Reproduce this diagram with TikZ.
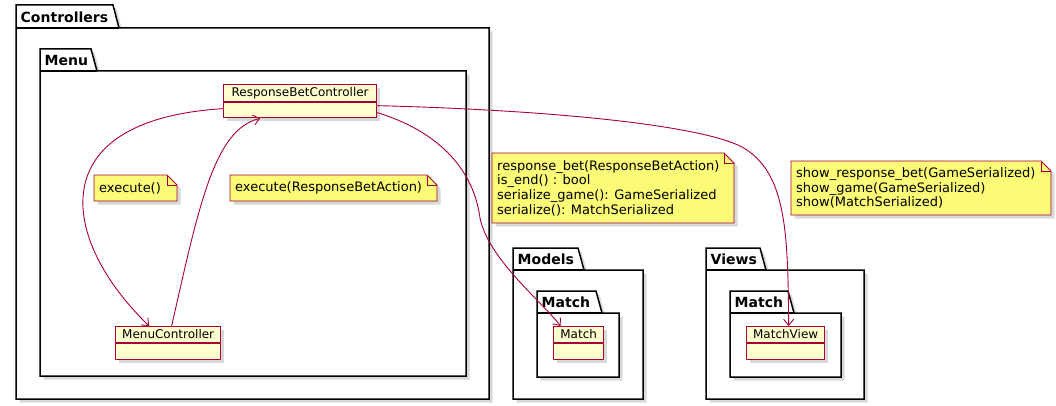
\documentclass[tikz,border=0pt]{standalone}
\usepackage{fontspec}
\setmainfont{DejaVu Sans}
\usetikzlibrary{arrows.meta,shadows,calc}
\definecolor{umlred}{HTML}{A80036}
\definecolor{classfill}{HTML}{FEFECE}
\definecolor{notefill}{HTML}{FBFB77}
\tikzset{
  pkgline/.style={draw=black,line width=1.5pt,fill=white,line join=miter,
    drop shadow={shadow xshift=3.5pt,shadow yshift=-3.5pt,opacity=0.3}},
  pkgtitle/.style={anchor=west,inner sep=0pt,font=\fontsize{14}{16}\selectfont\bfseries},
  classbox/.style={draw=umlred,line width=1.3pt,fill=classfill,anchor=north west,inner sep=0pt,
    drop shadow={shadow xshift=3.5pt,shadow yshift=-3.5pt,opacity=0.3}},
  classname/.style={inner sep=0pt,font=\fontsize{12}{14}\selectfont},
  noteshape/.style={draw=umlred,line width=0.8pt,fill=notefill,line join=miter,
    drop shadow={shadow xshift=3.5pt,shadow yshift=-3.5pt,opacity=0.3}},
  notetext/.style={anchor=west,inner sep=0pt,align=left,font=\fontsize{13}{14.7}\selectfont},
  assoc/.style={draw=umlred,line width=0.9pt,-{Straight Barb[length=6pt,width=10pt]}},
  plain/.style={draw=umlred,line width=0.9pt},
}
% #1 x1, #2 tabtop, #3 tabright, #4 bodytop, #5 x2, #6 y2
\newcommand{\umlpkg}[7]{%
  \path[pkgline] (#1,#4) -- (#1,#2) -- (#3,#2) -- ($(#3,#4)+(6,0)$) -- (#5,#4) -- (#5,#6) -- (#1,#6) -- cycle;
  \draw[black,line width=1.5pt] (#1,#4) -- ($(#3,#4)+(6,0)$);
  \node[pkgtitle] at ($(#1,#2)!0.5!(#1,#4)+(4.5,0.5)$) {#7};
}
% note: #1 x1, #2 y1, #3 x2, #4 y2
\newcommand{\umlnoteshape}[4]{%
  \path[noteshape] (#1,#2) -- ($(#3,#2)+(-10,0)$) -- ($(#3,#2)+(0,10)$) -- (#3,#4) -- (#1,#4) -- cycle;
  \draw[umlred,line width=0.8pt] ($(#3,#2)+(-10,0)$) -- ($(#3,#2)+(-10,10)$) -- ($(#3,#2)+(0,10)$);
}
\begin{document}
\begin{tikzpicture}[x=1pt,y=-1pt]
\useasboundingbox (0,0) rectangle (1056,406);
% packages
\umlpkg{16}{5}{113}{28}{489}{399}{Controllers}
\umlpkg{40}{49}{91}{71}{466}{376}{Menu}
\umlpkg{513}{248}{578}{270}{643}{399}{Models}
\umlpkg{537}{291}{596}{313}{619}{377}{Match}
\umlpkg{706}{248}{760}{270}{864}{399}{Views}
\umlpkg{730}{291}{788}{313}{841}{377}{Match}

% classes
\node[classbox,minimum width=153pt,minimum height=33pt] (rbc) at (223,84) {};
\draw[umlred,line width=1.3pt] (rbc.north west) ++(0,18) -- ++(153,0);
\node[classname] (rbcname) at ($(rbc.north)+(0,9)$) {ResponseBetController};

\node[classbox,minimum width=105pt,minimum height=33pt] (mc) at (115,326) {};
\draw[umlred,line width=1.3pt] (mc.north west) ++(0,17) -- ++(105,0);
\node[classname] (mcname) at ($(mc.north)+(0,8.5)$) {MenuController};

\node[classbox,minimum width=50pt,minimum height=33pt] (match) at (553,326) {};
\draw[umlred,line width=1.3pt] (match.north west) ++(0,17) -- ++(50,0);
\node[classname] (matchname) at ($(match.north)+(0,8.5)$) {Match};

\node[classbox,minimum width=78pt,minimum height=33pt] (mv) at (746,326) {};
\draw[umlred,line width=1.3pt] (mv.north west) ++(0,17) -- ++(78,0);
\node[classname] (mvname) at ($(mv.north)+(0,8.5)$) {MatchView};

% notes
\umlnoteshape{94}{175}{177}{201}
\node[notetext] (n1) at (99,188) {execute()};
\umlnoteshape{230}{175}{437}{201}
\node[notetext] (n2) at (235,188) {execute(ResponseBetAction)};
\umlnoteshape{492}{153}{734}{223}
\node[notetext] (n3) at (497,188) {response\_bet(ResponseBetAction)\\is\_end() : bool\\serialize\_game(): GameSerialized\\serialize(): MatchSerialized};
\umlnoteshape{791}{161}{1051}{215}
\node[notetext] (n4) at (796,188) {show\_response\_bet(GameSerialized)\\show\_game(GameSerialized)\\show(MatchSerialized)};

% connectors
\draw[assoc] ($(rbc.west)+(0,7.5)$) .. controls (40,120) and (60,240) .. ($(mc.north)+(-19,0)$);
\draw[assoc] ($(mc.north)+(3.5,0)$) .. controls (200,200) and (215,130) .. ($(rbc.south)+(-40,0)$);
\draw[assoc] ($(rbc.east)+(0,11.5)$) .. controls (450,135) and (475,180) .. (480,218) .. controls (488,258) and (540,300) .. ($(match.north)+(-18,0)$);
\draw[assoc] ($(rbc.east)+(0,4.5)$) .. controls (550,110) and (700,125) .. (742,147) .. controls (786,172) and (788,230) .. ($(mv.north)+(3,0)$);
\end{tikzpicture}
\end{document}
